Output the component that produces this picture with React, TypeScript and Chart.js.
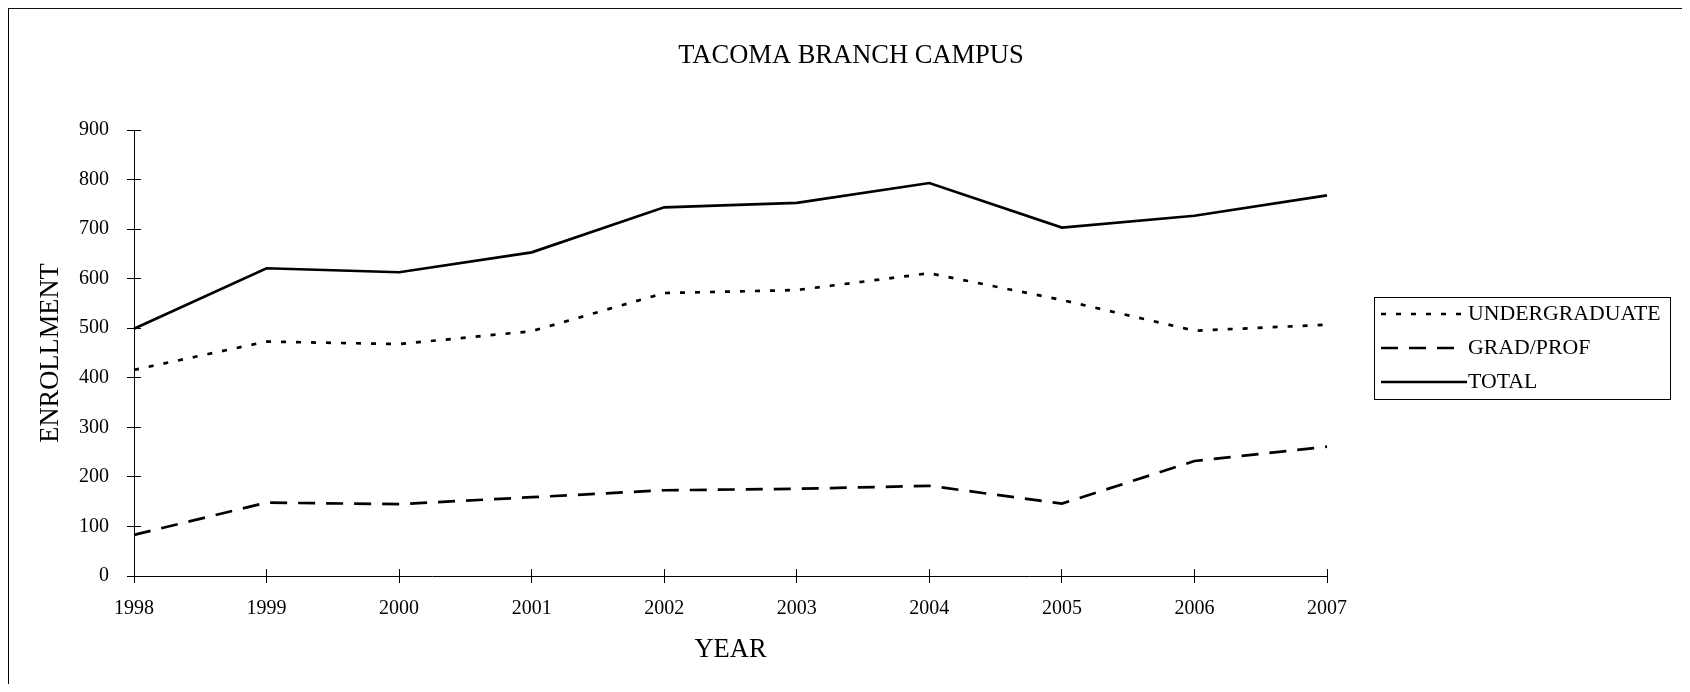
import React, { useEffect, useRef } from 'react';
import { Chart, registerables } from 'chart.js';

Chart.register(...registerables);

// ---- data ----
const years = ['1998', '1999', '2000', '2001', '2002', '2003', '2004', '2005', '2006', '2007'];
const undergraduate = [416, 473, 468, 494, 571, 577, 611, 557, 495, 507];
const gradProf = [83, 148, 145, 159, 173, 176, 182, 146, 232, 261];
const total = [499, 621, 613, 653, 744, 753, 793, 703, 727, 768];
const seriesLabels = ['UNDERGRADUATE', 'GRAD/PROF', 'TOTAL'];
const yMin = 0;
const yMax = 900;
const yStep = 100;
const chartTitle = 'TACOMA BRANCH CAMPUS';
const xTitle = 'YEAR';
const yTitle = 'ENROLLMENT';

const FONT = '"Liberation Serif", "Times New Roman", Times, serif';
const W = 1680;
const H = 676;

const innerTicksPlugin = {
  id: 'innerTicks',
  afterDraw(chart: any) {
    const { ctx, chartArea, scales } = chart;
    const align = (p: number) => Math.round(p - 0.5) + 0.5;
    ctx.save();
    ctx.strokeStyle = '#000';
    ctx.lineWidth = 1;
    ctx.setLineDash([]);
    const xs = scales.x;
    xs.ticks.forEach((_: any, i: number) => {
      const x = align(xs.getPixelForTick(i));
      ctx.beginPath();
      ctx.moveTo(x, chartArea.bottom);
      ctx.lineTo(x, chartArea.bottom - 7);
      ctx.stroke();
    });
    const ys = scales.y;
    ys.ticks.forEach((_: any, i: number) => {
      const y = align(ys.getPixelForTick(i));
      ctx.beginPath();
      ctx.moveTo(chartArea.left, y);
      ctx.lineTo(chartArea.left + 7, y);
      ctx.stroke();
    });
    ctx.restore();
  },
};

// end the sample line at the end of its last complete dash
function trimmedEnd(start: number, end: number, dash: number[]) {
  if (!dash || !dash.length) return end;
  const L = end - start;
  let pos = 0;
  let i = 0;
  let lastFull = 0;
  while (pos < L) {
    const seg = dash[i % dash.length];
    if (i % 2 === 0) {
      if (pos + seg <= L) lastFull = pos + seg;
      else break;
    }
    pos += seg;
    i++;
  }
  return start + lastFull;
}

const boxLegendPlugin = {
  id: 'boxLegend',
  afterDraw(chart: any, _args: any, opts: any) {
    const { ctx } = chart;
    const { left, top, width, height, lineStart, lineEnd, textX, font } = opts;
    const n = chart.data.datasets.length;
    const rowH = height / n;
    ctx.save();
    ctx.strokeStyle = '#000';
    ctx.lineWidth = 1;
    ctx.setLineDash([]);
    ctx.strokeRect(left + 0.5, top + 0.5, width, height);
    chart.data.datasets.forEach((ds: any, i: number) => {
      const y = top + rowH * (i + 0.5);
      const dash = ds.borderDash || [];
      ctx.save();
      ctx.strokeStyle = ds.borderColor;
      ctx.lineWidth = ds.borderWidth;
      ctx.setLineDash(dash);
      ctx.beginPath();
      ctx.moveTo(lineStart, y);
      ctx.lineTo(trimmedEnd(lineStart, lineEnd, dash), y);
      ctx.stroke();
      ctx.restore();
      ctx.fillStyle = '#000';
      ctx.font = font;
      ctx.textAlign = 'left';
      ctx.textBaseline = 'middle';
      ctx.fillText(ds.label, textX, y);
    });
    ctx.restore();
  },
};

export default function App() {
  const ref = useRef<HTMLCanvasElement | null>(null);

  useEffect(() => {
    if (!ref.current) return;
    const chart = new Chart(ref.current, {
      type: 'line',
      data: {
        labels: years,
        datasets: [
          {
            label: seriesLabels[0],
            data: undergraduate,
            borderColor: '#000',
            backgroundColor: '#000',
            borderWidth: 2.7,
            borderDash: [5, 10],
            pointRadius: 0,
            tension: 0,
            fill: false,
          },
          {
            label: seriesLabels[1],
            data: gradProf,
            borderColor: '#000',
            backgroundColor: '#000',
            borderWidth: 2.7,
            borderDash: [17, 11],
            pointRadius: 0,
            tension: 0,
            fill: false,
          },
          {
            label: seriesLabels[2],
            data: total,
            borderColor: '#000',
            backgroundColor: '#000',
            borderWidth: 2.7,
            borderDash: [],
            pointRadius: 0,
            tension: 0,
            fill: false,
          },
        ],
      },
      options: {
        responsive: false,
        animation: false,
        events: [],
        layout: { padding: { left: 6, right: 0, top: 0, bottom: 0 } },
        plugins: {
          legend: { display: false },
          tooltip: { enabled: false },
          title: {
            display: true,
            text: chartTitle,
            color: '#000',
            font: { family: FONT, size: 26.5, weight: 'normal', lineHeight: 1.2 },
            padding: { top: 32, bottom: 58.2 },
          },
          boxLegend: {
            left: 1366,
            top: 289,
            width: 296,
            height: 102,
            lineStart: 1373,
            lineEnd: 1459,
            textX: 1460,
            font: `21.8px ${FONT}`,
          },
        } as any,
        scales: {
          x: {
            type: 'category',
            offset: false,
            grid: { display: true, drawOnChartArea: false, drawTicks: true, tickLength: 7, color: '#000', lineWidth: 1 },
            border: { display: true, color: '#000', width: 1 },
            ticks: {
              color: '#000',
              font: { family: FONT, size: 20, lineHeight: 1.2 },
              padding: 14,
              maxRotation: 0,
              autoSkip: false,
            },
            title: {
              display: true,
              text: xTitle,
              color: '#000',
              font: { family: FONT, size: 26.5, lineHeight: 1.2 },
              padding: { top: 0, bottom: 18.1 },
            },
            afterFit: (s: any) => {
              s.height = 108;
            },
          },
          y: {
            type: 'linear',
            position: 'left',
            min: yMin,
            max: yMax,
            grid: { display: true, drawOnChartArea: false, drawTicks: true, tickLength: 7, color: '#000', lineWidth: 1 },
            border: { display: true, color: '#000', width: 1 },
            ticks: {
              stepSize: yStep,
              color: '#000',
              font: { family: FONT, size: 20, lineHeight: 1.2 },
              padding: 18,
            },
            title: {
              display: true,
              text: yTitle,
              color: '#000',
              font: { family: FONT, size: 26.5, lineHeight: 1.2 },
              padding: { top: 21.1, bottom: 0 },
            },
            afterFit: (s: any) => {
              s.width = 120;
            },
          },
          yR: {
            type: 'linear',
            position: 'right',
            display: true,
            grid: { display: false, drawTicks: false, drawOnChartArea: false },
            border: { display: false },
            ticks: { display: false },
            title: { display: false },
            afterFit: (s: any) => {
              s.width = 361;
            },
          },
        } as any,
      },
      plugins: [innerTicksPlugin, boxLegendPlugin],
    });
    return () => chart.destroy();
  }, []);

  return (
    <div style={{ position: 'relative', width: W, height: H }}>
      <canvas ref={ref} width={W} height={H} style={{ position: 'absolute', left: 0, top: 0, width: W, height: H }} />
      <div
        style={{
          position: 'absolute',
          left: 0,
          top: -1,
          width: W,
          height: 2,
          background: '#111',
          pointerEvents: 'none',
        }}
      />
      <div
        style={{
          position: 'absolute',
          left: 0,
          top: -1,
          width: 1,
          height: H + 1,
          background: '#000',
          pointerEvents: 'none',
        }}
      />
    </div>
  );
}
